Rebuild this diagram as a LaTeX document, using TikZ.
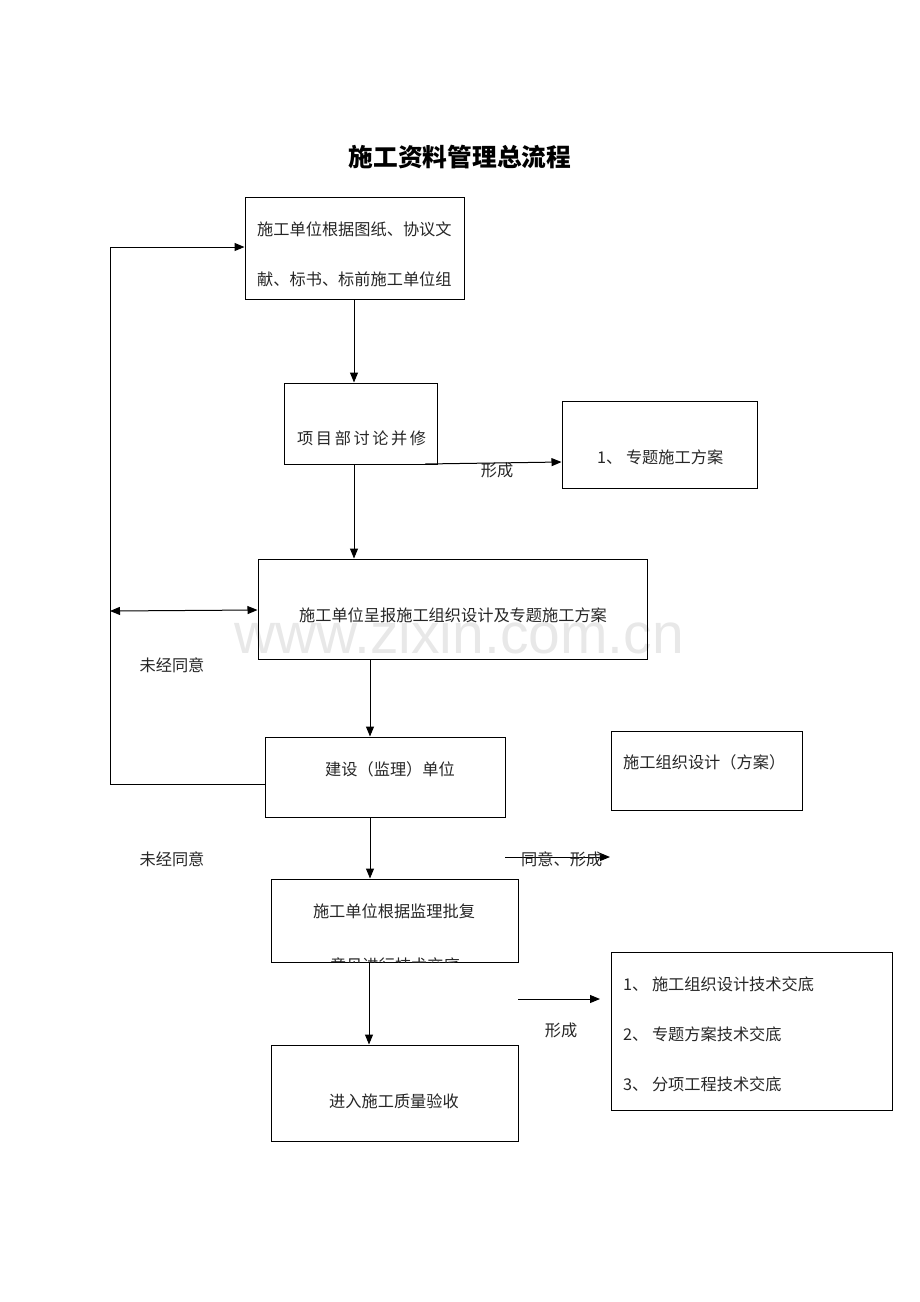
\documentclass[tikz,border=0pt]{standalone}
\usepackage{fontspec}
\setmainfont{Noto Sans CJK SC}
\newfontfamily\wmfont{Liberation Sans}
\usetikzlibrary{arrows.meta,calc}
\begin{document}
\begin{tikzpicture}[x=1pt,y=-1pt,
  box/.style={draw, line width=1pt, inner sep=0pt},
  txt/.style={inner sep=0pt, font=\fontsize{16.2}{16.2}\selectfont, text=black!85},
  conn/.style={line width=1pt, -{Triangle[length=10pt,width=8pt]}},
  plain/.style={line width=1pt}]
\useasboundingbox (0,0) rectangle (920,1302);
% watermark
\node[inner sep=0pt, text=black!9, font=\wmfont\fontsize{57}{57}\selectfont] (wm) at (459,633) {www.zixin.com.cn};
% title
\node[inner sep=0pt, font=\fontsize{24.7}{24.7}\selectfont\bfseries] (title) at (460,157) {施工资料管理总流程};
% boxes
\node[box, minimum width=219pt, minimum height=102pt] (b1) at (354.5,248) {};
\node[box, minimum width=153pt, minimum height=81pt] (b2) at (360.5,423.5) {};
\node[box, minimum width=195pt, minimum height=87pt] (b3) at (659.5,444.5) {};
\node[box, minimum width=389pt, minimum height=100pt] (b4) at (452.5,609) {};
\node[box, minimum width=240pt, minimum height=80pt] (b5) at (385,777) {};
\node[box, minimum width=191pt, minimum height=79pt] (b6) at (706.5,770.5) {};
\node[box, minimum width=247pt, minimum height=83pt] (b7) at (394.5,920.5) {};
\node[box, minimum width=247pt, minimum height=96pt] (b8) at (394.5,1093) {};
\node[box, minimum width=281pt, minimum height=158pt] (b9) at (751.5,1031) {};
% texts
\node[txt, anchor=west] (t1a) at (257,229) {施工单位根据图纸、协议文};
\node[txt, anchor=west] (t1b) at (257,279) {献、标书、标前施工单位组};
\node[txt, anchor=west] (t2) at (297,438) {项\hspace{2.6pt}目\hspace{2.6pt}部\hspace{2.6pt}讨\hspace{2.6pt}论\hspace{2.6pt}并\hspace{2.6pt}修};
\node[txt, anchor=west] (t3) at (597,457) {1、 专题施工方案};
\node[txt] (t4) at (453,615) {施工单位呈报施工组织设计及专题施工方案};
\node[txt] (t5) at (390,769) {建设（监理）单位};
\node[txt, anchor=west] (t6) at (623,762) {施工组织设计（方案）};
\node[txt] (t7) at (394,911) {施工单位根据监理批复};
\begin{scope}
  \clip (b7.north west) rectangle (b7.south east);
  \node[txt] (t7b) at (395,965) {意见进行技术交底};
\end{scope}
\node[txt] (t8) at (394,1101) {进入施工质量验收};
\node[txt, anchor=west] (t9a) at (623,984) {1、 施工组织设计技术交底};
\node[txt, anchor=west] (t9b) at (623,1034) {2、 专题方案技术交底};
\node[txt, anchor=west] (t9c) at (623,1084) {3、 分项工程技术交底};
% labels
\node[txt] (l1) at (497,470) {形成};
\node[txt] (l2) at (172,665) {未经同意};
\node[txt] (l3) at (172,859) {未经同意};
\node[txt] (l5) at (561,1030) {形成};
% connectors
\draw[conn] (b1.south -| 354,0) -- (b2.north -| 354,0);
\coordinate (c2a) at (425,464);
\draw[conn] (c2a) -- (b3.west |- 0,462);
\draw[conn] (b2.south -| 354,0) -- (b4.north -| 354,0);
\draw[conn] (b4.south -| 370,0) -- (b5.north -| 370,0);
\draw[conn] (b5.south -| 370,0) -- (b7.north -| 370,0);
\draw[conn] (b7.south -| 369,0) -- (b8.north -| 369,0);
% feedback loop
\coordinate (lt) at (110,247);
\coordinate (lb) at (110,784);
\coordinate (lm) at (110,611);
\draw[plain] (b5.west |- lb) -- (lb) -- (lt);
\draw[conn] (lt) -- (b1.west |- lt);
\draw[line width=1pt, {Triangle[length=10pt,width=8pt]}-{Triangle[length=10pt,width=8pt]}] (lm) -- (b4.west |- 0,610);
% agree arrow
\coordinate (c5a) at (505,857);
\coordinate (c5b) at (610,857);
\draw[conn] (c5a) -- (c5b);
\node[txt, anchor=west] (l4) at (521,859) {同意、形成};
\coordinate (c7a) at (518,999);
\draw[conn] (c7a) -- (600,999);
\end{tikzpicture}
\end{document}
